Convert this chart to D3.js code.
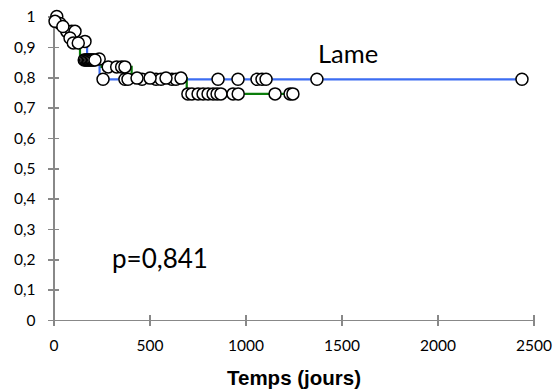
<!DOCTYPE html>
<html>
<head>
<meta charset="utf-8">
<script src="https://cdn.jsdelivr.net/npm/d3@7"></script>
<style>
  html, body { margin: 0; padding: 0; background: #fff; }
  svg { display: block; }
</style>
</head>
<body>
<svg id="chart" width="557" height="392"></svg>
<script>
// ---- data ----
const xTicks = [0, 500, 1000, 1500, 2000, 2500];
const yTicks = [0, 0.1, 0.2, 0.3, 0.4, 0.5, 0.6, 0.7, 0.8, 0.9, 1];
const yTickLabels = ["0", "0,1", "0,2", "0,3", "0,4", "0,5", "0,6", "0,7", "0,8", "0,9", "1"];

// Kaplan-Meier steps: [time, survival after the step]
const blueSteps = [[0, 1], [25, 0.977], [60, 0.951], [118, 0.918], [175, 0.86], [240, 0.793]];
const blueEnd = 2440;
const blueCensored = [[17, 1.0], [34, 0.977], [69, 0.951], [95, 0.951], [112, 0.951], [164, 0.918],
  [238, 0.86], [258, 0.793], [372, 0.793], [388, 0.793], [461, 0.793], [534, 0.793], [560, 0.793],
  [617, 0.793], [638, 0.793], [857, 0.793], [961, 0.793], [1060, 0.793], [1086, 0.793], [1107, 0.793],
  [1372, 0.793], [2440, 0.793]];

const greenSteps = [[0, 1], [5, 0.984], [45, 0.967], [80, 0.929], [100, 0.913], [132, 0.896],
  [138, 0.857], [250, 0.834], [407, 0.797], [694, 0.745]];
const greenEnd = 1247;
const greenCensored = [[8, 0.984], [49, 0.967], [86, 0.929], [103, 0.913], [129, 0.913],
  [160, 0.857], [167, 0.857], [174, 0.857], [181, 0.857], [188, 0.857], [195, 0.857], [202, 0.857],
  [209, 0.857], [216, 0.857], [285, 0.834], [329, 0.834], [355, 0.834], [372, 0.834],
  [435, 0.797], [503, 0.797], [586, 0.797], [664, 0.797],
  [700, 0.745], [721, 0.745], [753, 0.745], [779, 0.745], [805, 0.745], [831, 0.745], [852, 0.745],
  [872, 0.745], [935, 0.745], [962, 0.745], [1154, 0.745], [1232, 0.745], [1247, 0.745]];

const seriesLabel = "Lame";
const pLabel = "p=0,841";
const xTitle = "Temps (jours)";

// ---- drawing ----
const svg = d3.select("#chart");
const x = d3.scaleLinear().domain([0, 2500]).range([53.5, 533.5]);
const y = d3.scaleLinear().domain([0, 1]).range([320, 16.5]);

const axisColor = "#888888";
const tickFont = "Lato, 'Open Sans', sans-serif";

// Y axis
const yAxis = svg.append("g").attr("transform", `translate(${x(0)},0)`)
  .call(d3.axisLeft(y).tickValues(yTicks).tickSize(0).tickSizeOuter(0).tickPadding(18)
    .tickFormat((d, i) => yTickLabels[i]));
yAxis.select(".domain").attr("stroke", axisColor).attr("stroke-width", 1.6);
yAxis.selectAll(".tick").append("line").attr("x1", -5.5).attr("x2", 5.5)
  .attr("stroke", axisColor).attr("stroke-width", 1.6);
yAxis.selectAll("text").attr("font-family", tickFont).attr("font-size", 15.5).attr("fill", "#000")
  .attr("dy", "0.34em");

// X axis
const xAxis = svg.append("g").attr("transform", `translate(0,${y(0)})`)
  .call(d3.axisBottom(x).tickValues(xTicks).tickSize(0).tickSizeOuter(0).tickPadding(0)
    .tickFormat(d3.format("d")));
xAxis.select(".domain").attr("stroke", axisColor).attr("stroke-width", 1.6);
xAxis.selectAll(".tick").append("line").attr("y1", -5.5).attr("y2", 5.5)
  .attr("stroke", axisColor).attr("stroke-width", 1.6);
xAxis.selectAll("text").attr("font-family", tickFont).attr("font-size", 15.5).attr("fill", "#000")
  .attr("y", 31).attr("dy", 0);
svg.selectAll(".domain, .tick line").attr("shape-rendering", "crispEdges");

// KM lines
const line = d3.line().x(d => x(d[0])).y(d => y(d[1])).curve(d3.curveStepAfter);
function kmPath(steps, end) {
  const pts = steps.slice();
  pts.push([end, steps[steps.length - 1][1]]);
  return pts;
}
svg.append("path").datum(kmPath(blueSteps, blueEnd)).attr("d", line)
  .attr("fill", "none").attr("stroke", "#3d6df2").attr("stroke-width", 2.2);
svg.append("path").datum(kmPath(greenSteps, greenEnd)).attr("d", line)
  .attr("fill", "none").attr("stroke", "#0a7d0a").attr("stroke-width", 2.2);

// censoring markers
function drawCensored(data) {
  svg.append("g").selectAll("circle").data(data).join("circle")
    .attr("cx", d => x(d[0])).attr("cy", d => y(d[1])).attr("r", 6)
    .attr("fill", "#fff").attr("stroke", "#000").attr("stroke-width", 1.5);
}
drawCensored(blueCensored);
drawCensored(greenCensored);

// labels
svg.append("text").attr("x", 318).attr("y", 63).text(seriesLabel)
  .attr("font-family", tickFont).attr("font-size", 25.5).attr("fill", "#000");
svg.append("text").attr("x", 112).attr("y", 268).text(pLabel)
  .attr("font-family", tickFont).attr("font-size", 26).attr("fill", "#000");
svg.append("text").attr("x", 294).attr("y", 385).attr("text-anchor", "middle").text(xTitle)
  .attr("font-family", "'Liberation Sans', Arial, sans-serif").attr("font-weight", "bold")
  .attr("font-size", 20.5).attr("fill", "#000");
</script>
</body>
</html>
